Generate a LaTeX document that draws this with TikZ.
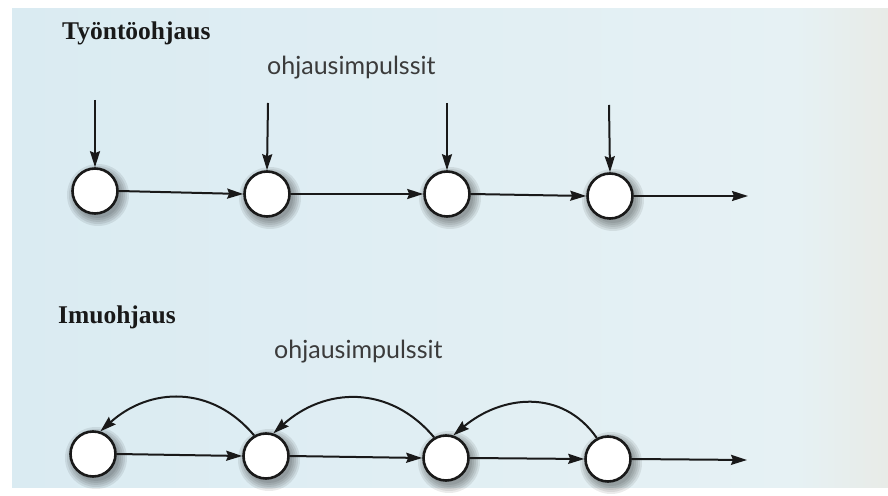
\documentclass[tikz,border=0pt]{standalone}
\usepackage{fontspec}
\setmainfont{Liberation Serif}
\newfontfamily\labelfont{Lato}
\usetikzlibrary{arrows.meta,calc}
\definecolor{bgleft}{RGB}{218,235,242}
\definecolor{bgright}{RGB}{230,241,244}
\definecolor{stripc}{RGB}{243,246,243}
\definecolor{edgec}{RGB}{232,235,231}
\definecolor{ink}{RGB}{25,25,25}
\newcommand{\softshadow}[1]{%
  \foreach \r in {31,29,27,25,23}{\fill[black,opacity=.08] ($(#1)+(3,-4)$) circle (\r);}}
\begin{document}
\begin{tikzpicture}[x=1pt,y=1pt,
  stage/.style={circle,draw=ink,line width=2.6pt,fill=white,minimum size=45pt,inner sep=0pt},
  flow/.style={draw=ink,line width=2pt,-{Stealth[length=16pt,width=10pt,inset=2pt]}},
  title/.style={font=\bfseries\fontsize{25.5}{28}\selectfont,inner sep=0pt,anchor=base west,text=ink},
  lbl/.style={font=\labelfont\fontsize{25}{28}\selectfont,inner sep=0pt,anchor=base west,text=ink!85}]
\useasboundingbox (0,0) rectangle (888,495);
\fill[white] (0,0) rectangle (888,495);
\shade[left color=bgleft,right color=bgright] (12,8) rectangle (796,487);
\shade[left color=bgright,middle color=stripc,right color=edgec] (795,8) rectangle (888,495);
\fill[white] (0,487) rectangle (888,495);

% titles and labels
\node[title] (t1) at (62,455) {Työntöohjaus};
\node[lbl] (l1) at (267,420) {ohjausimpulssit};
\node[title] (t2) at (58,171) {Imuohjaus};
\node[lbl] (l2) at (274,136) {ohjausimpulssit};

% positions
\coordinate (cp1) at (95,304);
\coordinate (cp2) at (267,301);
\coordinate (cp3) at (447,301);
\coordinate (cp4) at (610,299);
\coordinate (cq1) at (93,41);
\coordinate (cq2) at (266,39);
\coordinate (cq3) at (446,37);
\coordinate (cq4) at (608,36);
\foreach \c in {cp1,cp2,cp3,cp4,cq1,cq2,cq3,cq4}{\softshadow{\c}}

% push control
\node[stage] (p1) at (cp1) {};
\node[stage] (p2) at (cp2) {};
\node[stage] (p3) at (cp3) {};
\node[stage] (p4) at (cp4) {};
\coordinate (i1) at (95,395);
\coordinate (i2) at (268,392);
\coordinate (i3) at (447,392);
\coordinate (i4) at (609,390);
\coordinate (pe) at (748,299);
\draw[flow] (i1) -- (p1.north);
\draw[flow] (i2) -- (p2.north);
\draw[flow] (i3) -- (p3.north);
\draw[flow] (i4) -- (p4.north);
\draw[flow] (p1.east) -- (p2.west);
\draw[flow] (p2.east) -- (p3.west);
\draw[flow] (p3.east) -- (p4.west);
\draw[flow] (p4.east) -- (pe);

% pull control
\node[stage] (q1) at (cq1) {};
\node[stage] (q2) at (cq2) {};
\node[stage] (q3) at (cq3) {};
\node[stage] (q4) at (cq4) {};
\coordinate (qe) at (747,35);
\draw[flow] (q1.east) -- (q2.west);
\draw[flow] (q2.east) -- (q3.west);
\draw[flow] (q3.east) -- (q4.west);
\draw[flow] (q4.east) -- (qe);
\draw[flow] (q2.120) to[out=130,in=42,looseness=1.1] (q1.72);
\draw[flow] (q3.120) to[out=130,in=42,looseness=1.1] (q2.72);
\draw[flow] (q4.118) to[out=125,in=40,looseness=1.1] (q3.72);
\end{tikzpicture}
\end{document}
